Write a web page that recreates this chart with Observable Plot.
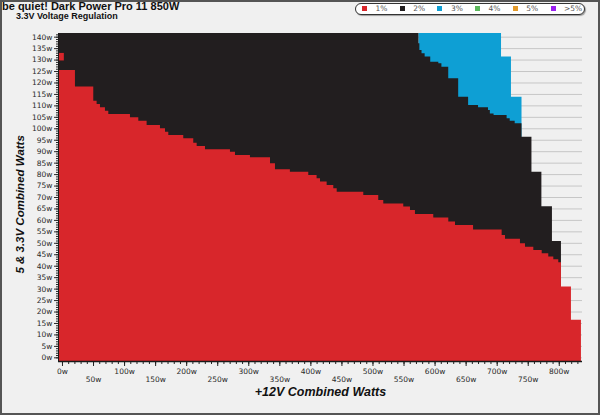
<!DOCTYPE html>
<html>
<head>
<meta charset="utf-8">
<script src="https://cdn.jsdelivr.net/npm/d3@7"></script>
<script src="https://cdn.jsdelivr.net/npm/@observablehq/plot@0.6"></script>
<style>
  html, body { margin: 0; padding: 0; background: #f0f0f0; }
  #wrap { position: relative; width: 600px; height: 415px; background: #f0f0f0; overflow: hidden; }
  #border { position: absolute; left: 0; top: 0; width: 600px; height: 415px; box-sizing: border-box; border: 2px solid #555; pointer-events: none; }
  #title { position: absolute; left: 2px; top: 0px; font: bold 11px "Liberation Sans", Arial, sans-serif; color: #111; white-space: nowrap; }
  #subtitle { position: absolute; left: 16px; top: 10.5px; font: bold 9px "Liberation Sans", Arial, sans-serif; color: #111; white-space: nowrap; }
  #legend { position: absolute; left: 355px; top: 3px; width: 230px; height: 12px; box-sizing: border-box; background: #fff; border: 1.5px solid #333; border-radius: 7px; box-shadow: 1px 1px 1px rgba(0,0,0,0.35); }
  .sw { position: absolute; width: 5px; height: 5px; }
  .lt { position: absolute; font: 7.5px "DejaVu Sans", sans-serif; color: #555; white-space: nowrap; line-height: 10px; }
  #chart { position: absolute; left: 0; top: 24px; }
</style>
</head>
<body>
<div id="wrap">
  <div id="title">be quiet! Dark Power Pro 11 850W</div>
  <div id="subtitle">3.3V Voltage Regulation</div>
  <div id="chart"></div>
  <div id="legend"></div>
  <div id="border"></div>
</div>
<script>
// ---- data (watts) ----
const legendLabels = ["1%", "2%", "3%", "4%", "5%", ">5%"];
const legendColors = ["#d8262b", "#221e1f", "#0e9fd4", "#5cb85c", "#e39a2b", "#9a1ff0"];

const X0 = -6.4, X1 = 837.4;   // x extent of the plotted grid
const Y0 = -1.6, Y1 = 141.6;   // y extent of the plotted grid

// 1% region (red) : left edge of each step and its top
const redX = [-6.4, 20.9, 50.4, 55.8, 61.2, 69.2, 74.6, 109.5, 122.9, 136.3, 157.8, 165.9, 171.2, 195.3, 211.4, 216.9, 230.3, 270.5, 278.6, 302.7, 335, 343, 367, 396.6, 410, 415.5, 426.2, 436.9, 442.4, 485.2, 509.3, 517.4, 549.6, 560.4, 568.4, 597.9, 622.1, 632.9, 662, 708, 713.4, 737.5, 745.6, 759, 772.5, 783.1, 791.2, 799.2, 803.5, 819.6];
const redY = [125.5, 118.2, 112, 110.6, 109.2, 107.7, 106.2, 104.8, 103.3, 101.4, 100, 98.5, 97.1, 95.6, 93.7, 92.3, 90.8, 89.8, 88.3, 87.3, 84.7, 82.1, 81.0, 79.6, 78.2, 76.8, 75.2, 73.8, 72.3, 70.9, 68.7, 67.2, 65.8, 64.3, 62.6, 61.1, 59.3, 57.8, 55.8, 53.4, 51.8, 49.8, 48.3, 46.9, 45.4, 44.0, 42.8, 41.5, 30.9, 16.4];
const redEnd = 835.7;
const redPatch = [{x1: -6.4, x2: 3.0, y1: 129.6, y2: 132.9}];

// 2% region (black)
const blackX = [-6.4, 574, 575.5, 579, 584, 593, 606, 611, 622, 638, 654, 670, 686, 689, 695, 716, 721, 729, 740, 756, 772, 789];
const blackY = [141.6, 137.1, 134.2, 132.8, 131.3, 129.1, 128.4, 126.9, 121.8, 113.8, 110.2, 109.2, 108, 106.5, 105.8, 104.4, 103.3, 102.2, 96.3, 81.0, 66, 50.8];
const blackEnd = 803.5;

// 3% region (blue)
const blueX = [574, 707, 723];
const blueY = [141.6, 131.3, 113.8];
const blueEnd = 740;

const yTicks = d3.range(0, 141, 5);
const xLabelsA = d3.range(0, 801, 100);
const xLabelsB = d3.range(50, 751, 100);

// ---- helpers ----
function steps(xs, ys, end) {
  const pts = xs.map((x, i) => ({x, y: ys[i]}));
  pts.push({x: end, y: ys[ys.length - 1]});
  return pts;
}

// ---- legend ----
const leg = document.getElementById("legend");
legendLabels.forEach((lab, i) => {
  const cx = 365 + i * 37.7 - 355 - 1.5;
  const sw = document.createElement("div");
  sw.className = "sw";
  sw.style.left = (cx - 2.5) + "px";
  sw.style.top = "2px";
  sw.style.background = legendColors[i];
  leg.appendChild(sw);
  const t = document.createElement("div");
  t.className = "lt";
  t.style.left = (cx + 11) + "px";
  t.style.top = "-0.5px";
  t.textContent = lab;
  leg.appendChild(t);
});

// ---- chart ----
const RED = legendColors[0], BLACK = legendColors[1], BLUE = legendColors[2];
const chart = Plot.plot({
  width: 600,
  height: 391,
  marginLeft: 58,
  marginRight: 18,
  marginTop: 9,
  marginBottom: 54,
  x: {domain: [X0, X1], label: null},
  y: {domain: [Y0, Y1], label: null},
  style: {background: "transparent", fontFamily: "DejaVu Sans, sans-serif", overflow: "visible"},
  marks: [
    Plot.ruleY(yTicks, {stroke: "#c6c6c6", strokeWidth: 1}),
    Plot.areaY(steps(blueX, blueY, blueEnd), {x: "x", y1: () => Y0, y2: "y", curve: "step-after", fill: BLUE}),
    Plot.areaY(steps(blackX, blackY, blackEnd), {x: "x", y1: () => Y0, y2: "y", curve: "step-after", fill: BLACK}),
    Plot.areaY(steps(redX, redY, redEnd), {x: "x", y1: () => Y0, y2: "y", curve: "step-after", fill: RED}),
    Plot.rect(redPatch, {x1: "x1", x2: "x2", y1: "y1", y2: "y2", fill: RED}),
    // axes
    Plot.axisY({ticks: d3.range(0, 142, 1), tickSize: 2, tickFormat: () => "", label: null, stroke: "#222"}),
    Plot.axisY({ticks: yTicks, tickSize: 4, tickPadding: 2, tickFormat: d => `${d}w`, label: null, fontSize: 7.5, color: "#2a2a2a"}),
    Plot.axisX({ticks: d3.range(0, 831, 10), tickSize: 3, tickFormat: () => "", label: null, stroke: "#222"}),
    Plot.axisX({ticks: d3.range(0, 831, 50), tickSize: 5, tickFormat: () => "", label: null, stroke: "#222"}),
    Plot.ruleY([Y0], {stroke: "#1a1a1a", strokeWidth: 1.5}),
    Plot.ruleX([X0], {stroke: "#1a1a1a", strokeWidth: 1}),
    Plot.text(xLabelsA, {x: d => d, frameAnchor: "bottom", lineAnchor: "middle", dy: 10, text: d => `${d}w`, fontSize: 7.5, fill: "#2a2a2a"}),
    Plot.text(xLabelsB, {x: d => d, frameAnchor: "bottom", lineAnchor: "middle", dy: 18, text: d => `${d}w`, fontSize: 7.5, fill: "#2a2a2a"}),
    Plot.text(["+12V Combined Watts"], {frameAnchor: "bottom", lineAnchor: "middle", textAnchor: "middle", dy: 30, text: d => d, fontSize: 12.5, fontWeight: "bold", fontStyle: "italic", fontFamily: "Liberation Sans, Arial, sans-serif", fill: "#111"}),
    Plot.text(["5 & 3.3V Combined Watts"], {frameAnchor: "left", textAnchor: "middle", lineAnchor: "middle", y: () => 67, dx: -38, rotate: -90, text: d => d, fontSize: 11.5, fontWeight: "bold", fontStyle: "italic", fontFamily: "Liberation Sans, Arial, sans-serif", fill: "#111"})
  ]
});
document.getElementById("chart").appendChild(chart);
</script>
</body>
</html>
